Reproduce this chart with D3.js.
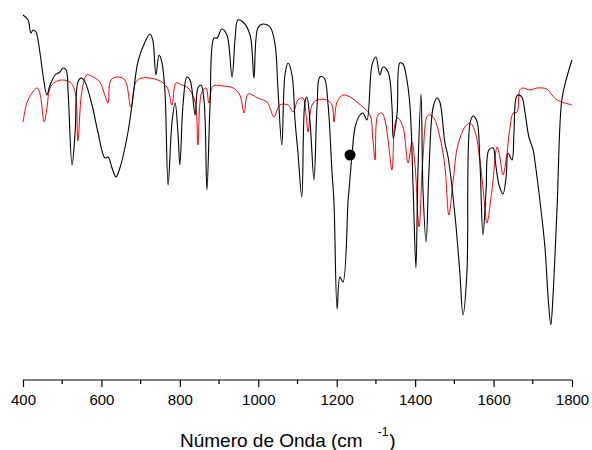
<!DOCTYPE html>
<html>
<head>
<meta charset="utf-8">
<script src="https://cdn.jsdelivr.net/npm/d3@7"></script>
<style>
  body { margin: 0; background: #fff; }
  svg { font-family: Arial, "Liberation Sans", sans-serif; }
</style>
</head>
<body>
<script>
// Spectrum 1 (black): wavenumber / transmittance (arbitrary units)
var blackWn = [400,413,420,426,433,443,451,461,469,482,494,502,510,515,525,533,540,548,558,576,591,609,617,627,637,647,665,678,693,711,724,731,739,747,754,762,770,780,788,795,800,808,818,826,839,846,854,862,869,877,887,895,907,920,933,941,948,961,979,989,999,1012,1030,1043,1050,1060,1068,1076,1086,1094,1101,1111,1119,1124,1132,1142,1150,1157,1168,1178,1188,1193,1201,1208,1216,1229,1231,1239,1247,1259,1267,1277,1290,1300,1310,1318,1331,1341,1344,1354,1361,1369,1379,1387,1395,1402,1407,1415,1420,1428,1435,1446,1456,1463,1476,1484,1502,1514,1522,1532,1540,1548,1558,1565,1573,1581,1588,1599,1604,1614,1624,1632,1637,1647,1652,1657,1662,1672,1680,1690,1701,1706,1718,1731,1739,1746,1751,1762,1774,1787,1800];
var blackT = [91.25,90,86.75,87.5,87,82,76.25,71.25,73.75,76.25,77,78,77.5,72,53.75,62,74.5,75.5,74.5,68.75,62,55.5,55.75,53,50.75,53,60.5,68.75,79.5,84.5,86.5,85,76.25,81.25,79.5,72,48.75,64.5,69.25,62,53.75,68.75,75.75,75,66.25,73,73.75,69.5,47.5,68.75,85.5,85.5,87.75,86.25,75.75,85.5,90,89.5,86.25,75.5,88,89,88.25,83.75,73,58.75,76.25,79.25,76.25,64.5,57,45.75,69.5,70.75,64.5,50,68.75,75.75,75.5,68.75,52,44.5,17.75,25.75,24.5,45,47,56.25,63.25,66.25,66.75,65,78.75,80.75,76.25,78.25,77,68.25,60.5,66.75,79.25,79,75,68.25,47.5,28,51.75,71.5,47.5,34.5,51.75,68.25,70.5,69.5,59.25,55.75,40.75,26.75,16.25,26.75,64.25,66,64.5,55,36.25,47.5,57.5,58,55,48.75,46.5,50.75,56.75,55,61.75,70.5,71.25,70.75,67,60.75,57.5,54.25,45,33.25,20.75,13.75,20,43.25,70,75.75,80];

// Spectrum 2 (red)
var redWn = [400,410,423,436,443,454,461,469,482,499,520,533,540,550,563,579,596,607,617,624,642,660,675,688,703,744,767,780,790,805,821,839,846,856,867,874,885,910,936,953,964,974,999,1022,1030,1040,1055,1076,1089,1101,1114,1122,1127,1137,1150,1175,1188,1193,1201,1216,1239,1254,1267,1285,1292,1298,1305,1315,1323,1331,1341,1349,1356,1369,1382,1392,1400,1410,1420,1433,1446,1463,1476,1486,1497,1509,1527,1540,1553,1565,1578,1583,1596,1609,1616,1624,1632,1642,1650,1660,1667,1675,1693,1711,1736,1749,1762,1800];
var redT = [64.5,69.25,71.75,73,71.75,64.5,68,73,74.5,75,74.5,72,59.75,72,76.25,75.75,74.5,71.75,69.25,75,75.75,75,68.25,74.5,75.5,75,73.25,68.75,74.25,73.75,73,69.5,58.75,72,73,69.25,73.5,73.5,73,71.25,66.75,71.5,70.5,69.5,68,65.75,68.75,68.75,67,70,70.5,66.25,62,68.75,70,70,68.75,64.5,69.5,71.25,70.5,69.25,68.25,66.25,60.5,55,66.25,66.75,65,60,52.5,64.25,65.5,63.25,54.25,59.5,53.25,38.25,55.75,66.25,65.75,60.75,53.25,41.25,50,58.75,63.25,64.25,62,55,43.25,39.25,47.5,58.25,55.75,51.25,55,63.25,66.75,67,72.5,73,72.5,73,72.75,71.25,70,68.75];

// Marked point on the black spectrum
var markWn = [1234];
var markT = [56.25];

var xTicks = [400, 600, 800, 1000, 1200, 1400, 1600, 1800];
var xMinorTicks = [500, 700, 900, 1100, 1300, 1500, 1700];

var width = 592, height = 450;

var xScale = d3.scaleLinear().domain([400, 1800]).range([23, 572]);
var yScale = d3.scaleLinear().domain([0, 95]).range([380, 0]);

var svg = d3.select("body").append("svg")
    .attr("width", width)
    .attr("height", height);

var line = d3.line()
    .x(function(d) { return xScale(d[0]); })
    .y(function(d) { return yScale(d[1]); })
    .curve(d3.curveCatmullRom.alpha(0.5));

// red drawn first, black on top
svg.append("path")
    .datum(d3.zip(redWn, redT))
    .attr("fill", "none")
    .attr("stroke", "#ff0000")
    .attr("stroke-width", 1)
    .attr("d", line);

svg.append("path")
    .datum(d3.zip(blackWn, blackT))
    .attr("fill", "none")
    .attr("stroke", "#000")
    .attr("stroke-width", 1.1)
    .attr("d", line);

svg.selectAll(".mark")
    .data(d3.zip(markWn, markT))
    .enter().append("circle")
    .attr("class", "mark")
    .attr("cx", function(d) { return xScale(d[0]); })
    .attr("cy", function(d) { return yScale(d[1]); })
    .attr("r", 5.5)
    .attr("fill", "#000");

// X axis
var xAxis = d3.axisBottom(xScale)
    .tickValues(xTicks)
    .tickSize(7)
    .tickPadding(7)
    .tickFormat(d3.format("d"));

var gx = svg.append("g")
    .attr("transform", "translate(0," + yScale(0) + ")")
    .call(xAxis);
gx.select(".domain").attr("stroke-width", 1.2).attr("d", "M" + xScale(400) + ",0H" + xScale(1800));
gx.selectAll(".tick line").attr("stroke-width", 1.2);
gx.selectAll(".tick text")
    .style("font-size", "15px")
    .style("font-family", "Arial, 'Liberation Sans', sans-serif")
    .attr("fill", "#000");

gx.selectAll(".minor")
    .data(xMinorTicks)
    .enter().append("line")
    .attr("class", "minor")
    .attr("x1", function(d) { return xScale(d); })
    .attr("x2", function(d) { return xScale(d); })
    .attr("y1", 0)
    .attr("y2", 4)
    .attr("stroke", "#000")
    .attr("stroke-width", 1.2);

// Axis title
var title = svg.append("text")
    .attr("x", 180)
    .attr("y", 447)
    .style("font-size", "19px")
    .attr("fill", "#000");
title.append("tspan").text("Número de Onda (cm");
title.append("tspan").attr("dx", 15).attr("dy", -11).style("font-size", "12px").text("-1");
title.append("tspan").attr("dx", 1).attr("dy", 11).text(")");
</script>
</body>
</html>
